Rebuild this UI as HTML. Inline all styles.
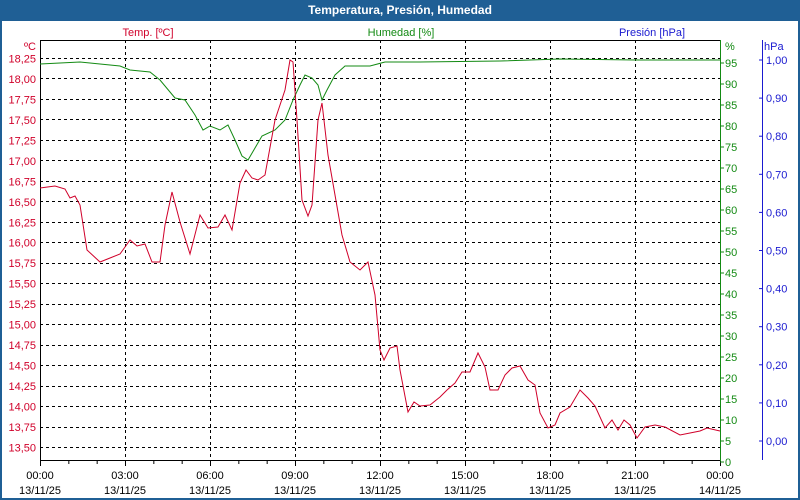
<!DOCTYPE html><html><head><style>body{margin:0;width:800px;height:500px;overflow:hidden;background:#1f5f95;font-family:"Liberation Sans",sans-serif}</style></head><body>
<svg width="800" height="500" style="position:absolute;left:0;top:0" font-family="Liberation Sans, sans-serif" font-size="11">
<rect x="0" y="0" width="800" height="500" fill="#1f5f95"/>
<rect x="2" y="21" width="796" height="477" fill="#fff"/>
<text x="400" y="14" fill="#fff" font-weight="bold" font-size="12" text-anchor="middle">Temperatura, Presión, Humedad</text>
<text x="148" y="36" fill="#d0002a" text-anchor="middle">Temp. [ºC]</text>
<text x="401" y="36" fill="#138a13" text-anchor="middle">Humedad [%]</text>
<text x="652" y="36" fill="#1a1ad0" text-anchor="middle">Presión [hPa]</text>
<g stroke="#000" stroke-dasharray="3,3" stroke-width="1">
<line x1="40" x2="720" y1="58.5" y2="58.5"/><line x1="40" x2="720" y1="78.5" y2="78.5"/><line x1="40" x2="720" y1="99.5" y2="99.5"/><line x1="40" x2="720" y1="119.5" y2="119.5"/><line x1="40" x2="720" y1="140.5" y2="140.5"/><line x1="40" x2="720" y1="160.5" y2="160.5"/><line x1="40" x2="720" y1="181.5" y2="181.5"/><line x1="40" x2="720" y1="201.5" y2="201.5"/><line x1="40" x2="720" y1="222.5" y2="222.5"/><line x1="40" x2="720" y1="242.5" y2="242.5"/><line x1="40" x2="720" y1="263.5" y2="263.5"/><line x1="40" x2="720" y1="283.5" y2="283.5"/><line x1="40" x2="720" y1="304.5" y2="304.5"/><line x1="40" x2="720" y1="324.5" y2="324.5"/><line x1="40" x2="720" y1="345.5" y2="345.5"/><line x1="40" x2="720" y1="365.5" y2="365.5"/><line x1="40" x2="720" y1="386.5" y2="386.5"/><line x1="40" x2="720" y1="406.5" y2="406.5"/><line x1="40" x2="720" y1="427.5" y2="427.5"/><line x1="40" x2="720" y1="447.5" y2="447.5"/>
<line x1="125.5" x2="125.5" y1="40" y2="460"/><line x1="210.5" x2="210.5" y1="40" y2="460"/><line x1="295.5" x2="295.5" y1="40" y2="460"/><line x1="380.5" x2="380.5" y1="40" y2="460"/><line x1="465.5" x2="465.5" y1="40" y2="460"/><line x1="550.5" x2="550.5" y1="40" y2="460"/><line x1="635.5" x2="635.5" y1="40" y2="460"/>
</g>
<line x1="40.5" x2="40.5" y1="40" y2="461" stroke="#000"/>
<line x1="40" x2="720" y1="40.5" y2="40.5" stroke="#000"/>
<line x1="40" x2="720" y1="460.5" y2="460.5" stroke="#000"/>
<g stroke="#000" id="bt"></g>
<line x1="720.5" x2="720.5" y1="40" y2="461" stroke="#138a13"/>
<line x1="762.5" x2="762.5" y1="40" y2="460" stroke="#1a1ad0"/>
<g fill="#d0002a" text-anchor="end" id="tl"></g>
<g fill="#138a13" id="hl"></g>
<g fill="#1a1ad0" id="pl"></g>
<g fill="#000" text-anchor="middle" id="xl"></g>
<text x="36" y="50" fill="#d0002a" text-anchor="end">ºC</text>
<text x="725" y="50" fill="#138a13">%</text>
<text x="764" y="50" fill="#1a1ad0">hPa</text>
<polyline fill="none" stroke="#138a13" stroke-width="1" points="40,64 60,63 80,62 100,64 120,66 130,70 150,72 160,80 175,98 185,100 195,115 203,130 210,126 220,130 228,125 235,140 242,156 248,160 255,148 262,136 275,130 285,120 293,100 300,85 305,75 312,78 318,85 322,100 327,90 335,75 345,66 370,66 385,62 420,62 500,61 560,59 640,60 720,60"/>
<polyline fill="none" stroke="#d0002a" stroke-width="1" points="40,188 55,186 65,189 70,198 75,196 80,205 87,250 100,262 110,258 120,254 130,240 137,246 145,244 152,262 160,262 165,225 172,192 180,222 190,254 200,215 208,228 218,227 225,215 232,230 240,183 246,170 252,178 258,180 265,175 275,120 285,90 290,60 293,62 297,120 302,200 308,216 312,205 318,120 322,103 328,155 335,195 342,235 350,262 360,270 368,262 375,295 380,350 384,360 390,348 397,346 400,370 408,412 414,402 420,406 430,405 440,397 447,390 455,383 462,372 470,372 478,353 485,367 490,390 498,390 505,375 512,368 520,366 528,380 535,385 540,413 548,428 555,425 560,413 570,407 580,390 588,398 595,406 605,428 612,420 618,430 624,420 630,425 637,438 645,427 655,425 665,427 680,435 690,433 700,431 707,428 720,431"/>
</svg>
<script>
var ns="http://www.w3.org/2000/svg";
function el(g,t,a,txt){var e=document.createElementNS(ns,t);for(var k in a)e.setAttribute(k,a[k]);if(txt)e.textContent=txt;document.getElementById(g).appendChild(e);}
for(var i=0;i<20;i++){var v=(18.25-i*0.25).toFixed(2).replace('.',',');var y=58.5+i*20.47;el('tl','text',{x:36,y:y+4},v);}
for(var h=0;h<=95;h+=5){var y=462-4.2*h;el('hl','text',{x:725,y:y+4},''+h);el('hl','line',{x1:720,x2:724,y1:y,y2:y,stroke:'#138a13'});}
for(var i=0;i<=10;i++){var y=441-i*38.1;el('pl','text',{x:766,y:y+4},(i/10).toFixed(2).replace('.',','));el('pl','line',{x1:759,x2:763,y1:y,y2:y,stroke:'#1a1ad0'});}
for(var i=0;i<=24;i++){var x=40.5+i*85/3;el('bt','line',{x1:x,x2:x,y1:460,y2:i%3?464:466,stroke:'#000'});}
var lab=['00:00','03:00','06:00','09:00','12:00','15:00','18:00','21:00','00:00'];
for(var i=0;i<9;i++){var x=40+i*85;el('xl','text',{x:x,y:479},lab[i]);el('xl','text',{x:x,y:494},i==8?'14/11/25':'13/11/25');}
</script>
</body></html>
